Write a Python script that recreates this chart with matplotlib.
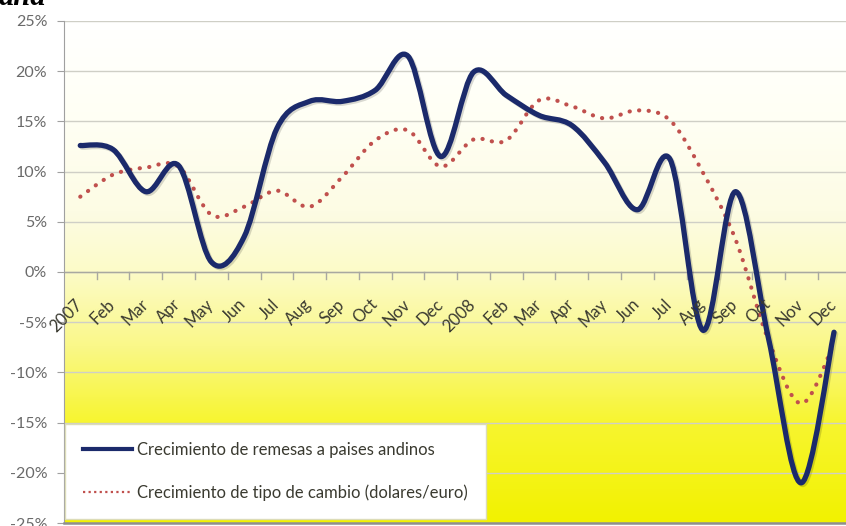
import matplotlib.pyplot as plt
import numpy as np
from matplotlib.path import Path
from matplotlib.patches import PathPatch
from matplotlib.lines import Line2D
from matplotlib.colors import LinearSegmentedColormap
import matplotlib.patheffects as pe

# month labels, 2007-2008
months = ["2007", "Feb", "Mar", "Apr", "May", "Jun", "Jul", "Aug", "Sep", "Oct", "Nov", "Dec",
          "2008", "Feb", "Mar", "Apr", "May", "Jun", "Jul", "Aug", "Sep", "Oct", "Nov", "Dec"]

# growth of remittances to andean countries (%)
remesas = [12.6, 12.2, 8.0, 10.6, 1.0, 3.5, 14.3, 17.0, 17.0, 18.1, 21.5, 11.5,
           19.9, 17.6, 15.6, 14.6, 10.9, 6.2, 11.2, -5.8, 8.0, -6.6, -21.0, -6.0]

# growth of exchange rate dollars/euro (%)
tipo_cambio = [7.5, 9.7, 10.4, 10.5, 5.7, 6.5, 8.1, 6.5, 9.5, 13.1, 14.1, 10.5,
               13.2, 13.1, 17.1, 16.5, 15.3, 16.1, 15.1, 9.9, 3.2, -6.8, -13.1, -7.1]

yticks = [25, 20, 15, 10, 5, 0, -5, -10, -15, -20, -25]

label_remesas = "Crecimiento de remesas a paises andinos"
label_cambio = "Crecimiento de tipo de cambio (dolares/euro)"


def smooth_path(xs, ys):
    # excel-like smoothed line: bezier segments through every point
    pts = np.column_stack([xs, ys]).astype(float)
    n = len(pts)
    verts = [pts[0]]
    codes = [Path.MOVETO]
    for i in range(n - 1):
        p0 = pts[max(i - 1, 0)]
        p1 = pts[i]
        p2 = pts[i + 1]
        p3 = pts[min(i + 2, n - 1)]
        verts += [p1 + (p2 - p0) / 6, p2 - (p3 - p1) / 6, p2]
        codes += [Path.CURVE4] * 3
    return Path(verts, codes)


fig = plt.figure(figsize=(8.46, 5.26), dpi=100)
ax = fig.add_axes([0.0755, 0.0057, 0.9297, 0.9544])

x = np.arange(len(months))
ax.set_xlim(-0.5, len(months) - 0.5)
ax.set_ylim(-25, 25)

# white -> yellow gradient background
cmap = LinearSegmentedColormap.from_list("bg", [
    (0.0, "#f2f200"), (0.2, "#f7f530"), (0.35, "#faf888"), (0.5, "#fcfbc8"),
    (0.62, "#fdfce4"), (0.8, "#fffff4"), (1.0, "#ffffff")])
grad = np.linspace(0, 1, 256).reshape(-1, 1)
ax.imshow(grad, cmap=cmap, aspect="auto", origin="lower",
          extent=[-0.5, len(months) - 0.5, -25, 25], zorder=0)

for v in yticks:
    ax.axhline(v, color="#cfcfc6", lw=1.0, zorder=1)
ax.axhline(0, color="#a8a8a0", lw=1.0, zorder=1)
# small category tick marks on the zero axis
for xi in x[1:]:
    ax.plot([xi - 0.5, xi - 0.5], [0, -0.7], color="#a8a8a0", lw=1.0, zorder=1)

red = PathPatch(smooth_path(x, tipo_cambio), fill=False, edgecolor="#c0504d",
                lw=3.0, linestyle=(0, (0.05, 2.25)), capstyle="round", zorder=3)
ax.add_patch(red)

blue = PathPatch(smooth_path(x, remesas), fill=False, edgecolor="#1b2a6b",
                 lw=3.8, capstyle="round", joinstyle="round", zorder=4,
                 path_effects=[pe.SimpleLineShadow(offset=(1.2, -1.2), alpha=0.15),
                               pe.Normal()])
ax.add_patch(blue)

# axis styling
ax.set_xticks([])
ax.set_yticks(yticks)
ax.set_yticklabels([f"{v}%" for v in yticks], fontsize=11.5, color="#6a6a6a", family="Lato")
ax.tick_params(axis="y", length=5, color="#a0a0a0", pad=7)
for s in ["top", "right"]:
    ax.spines[s].set_visible(False)
ax.spines["left"].set_color("#a0a0a0")
ax.spines["bottom"].set_color("#8f8f8f")
ax.spines["bottom"].set_linewidth(1.8)

for xi, lab in zip(x, months):
    ax.text(xi - 0.18, -2.4, lab, rotation=45, ha="right", va="top",
            rotation_mode="anchor", fontsize=12, color="#3a3a30", family="Lato", zorder=5)

handles = [Line2D([], [], color="#1b2a6b", lw=3),
           Line2D([], [], color="#c0504d", lw=1.6, linestyle=(0, (1, 1.5)))]
leg = ax.legend(handles, [label_remesas, label_cambio], loc="lower left",
                bbox_to_anchor=(0.0015, 0.008), borderaxespad=0,
                prop={"family": "Lato", "size": 12}, labelspacing=1.55, borderpad=1.1,
                handlelength=2.9, handletextpad=0.3, fancybox=False, framealpha=1)
leg.get_frame().set_edgecolor("#dcdcb8")
leg.get_frame().set_linewidth(1.0)
for t in leg.get_texts():
    t.set_color("#3a3a30")
leg.set_zorder(6)

# clipped title fragment at the top-left
fig.text(-0.002, 1 - 5 / 526, "ana", fontsize=22, fontweight="bold", fontstyle="italic",
         family="Liberation Serif", va="baseline", ha="left")

fig.savefig("out.png", dpi=100)
